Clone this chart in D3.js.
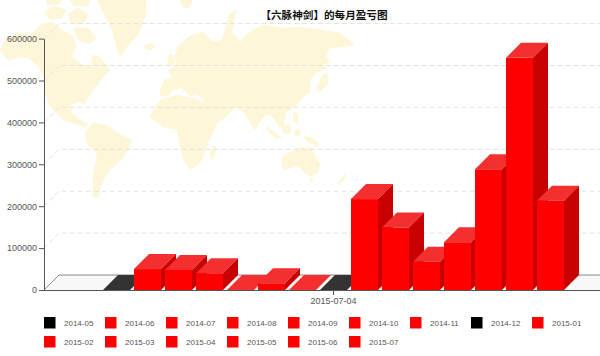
<!DOCTYPE html>
<html>
<head>
<meta charset="utf-8">
<script src="https://cdnjs.cloudflare.com/ajax/libs/d3/7.8.5/d3.min.js"></script>
<style>
  html, body { margin: 0; padding: 0; background: #fff; }
  svg { display: block; }
  text { font-family: "Liberation Sans", sans-serif; fill: #555; }
</style>
</head>
<body>
<div id="graphic"></div>
<script>
const titleText = "【六脉神剑】的每月盈亏图";
const months = ["2014-05", "2014-06", "2014-07", "2014-08", "2014-09", "2014-10", "2014-11", "2014-12",
                "2015-01", "2015-02", "2015-03", "2015-04", "2015-05", "2015-06", "2015-07"];
const profit = [0, 50000, 48000, 40000, 0, 16000, 0, 0,
                217000, 149000, 67500, 114000, 288000, 554000, 213000];
const yTicks = [0, 100000, 200000, 300000, 400000, 500000, 600000];
const xLabels = ["2015-07-04"];
const blackMonths = ["2014-05", "2014-12"];

const width = 600, height = 356, depth = 15;

var svg = d3.select("#graphic").append("svg")
        .attr("width", width)
        .attr("height", height);

svg.append("defs").append("filter")
    .attr("id", "soft")
    .append("feGaussianBlur")
    .attr("stdDeviation", 0.5);

// Background world map, traced by eye
const mapOutlines = [
  // north america
  "M0,50 L6,38 L18,33 L30,35 L42,24 L52,22 L62,30 L73,36 L76,46 L72,56 L80,64 L92,66 L92,55 L100,57 L110,70 L104,76 L98,84 L90,95 L84,104 L78,101 L70,106 L72,114 L80,120 L88,124 L85,127 L76,124 L64,120 L56,113 L49,104 L45,92 L44,78 L38,66 L29,58 L20,57 L8,60 Z",
  // arctic islands
  "M44,12 L54,6 L66,10 L62,18 L50,20 Z M68,14 L78,8 L88,14 L84,24 L72,24 Z M74,28 L88,28 L96,38 L90,44 L78,40 Z M46,0 L62,0 L58,5 L48,5 Z M70,0 L90,0 L88,6 L74,6 Z",
  // greenland, iceland, svalbard
  "M97,0 L146,0 L146,15 L138,35 L126,48 L120,56 L116,46 L112,30 L104,14 Z",
  "M144,46 L150,43 L155,46 L151,50 L146,49 Z",
  "M180,0 L193,0 L188,8 L183,7 Z",
  // south america
  "M85,133 L93,123 L107,125 L118,133 L132,140 L128,150 L123,158 L110,170 L102,182 L98,198 L93,197 L93,177 L97,153 L88,145 Z",
  // africa
  "M150,117 L160,100 L177,95 L193,98 L207,103 L212,115 L218,122 L208,143 L204,155 L200,163 L190,170 L184,160 L180,146 L177,130 L163,127 Z",
  "M213,146 L216,147 L214,158 L211,160 L210,153 Z",
  // eurasia
  "M160,90 L164,80 L172,78 L168,70 L178,66 L174,58 L178,46 L190,36 L203,32 L213,42 L222,40 L229,15 L236,10 L232,32 L240,42 L252,30 L263,25 L282,28 L300,27 L322,30 L340,33 L355,45 L340,47 L330,48 L326,56 L330,62 L322,66 L327,68 L316,73 L310,80 L310,92 L303,97 L296,106 L286,112 L284,124 L280,128 L274,118 L268,114 L262,118 L255,130 L250,122 L244,112 L236,108 L230,112 L222,120 L214,124 L208,110 L204,100 L196,94 L190,96 L182,88 L172,90 L168,96 L160,96 Z",
  // japan, britain, philippines
  "M322,76 L327,72 L328,84 L320,92 L316,90 Z",
  "M168,56 L172,54 L174,64 L168,66 Z",
  "M293,112 L298,114 L298,124 L294,122 Z",
  // indonesia, new guinea
  "M266,126 L272,130 L282,138 L276,138 L268,132 Z M282,126 L290,124 L291,133 L284,134 Z M294,132 L299,128 L300,135 L295,136 Z",
  "M303,137 L310,137 L318,142 L318,146 L310,143 Z",
  // australia, new zealand
  "M282,158 L288,153 L296,150 L300,147 L306,149 L310,146 L314,154 L320,164 L318,172 L312,176 L306,174 L298,166 L290,168 L284,170 L282,166 Z",
  "M309,178 L313,178 L312,182 Z",
  "M337,184 L342,178 L345,174 L346,177 L342,182 Z"
];

svg.append("g")
    .attr("filter", "url(#soft)")
    .selectAll("path")
    .data(mapOutlines)
    .enter().append("path")
    .attr("d", d => d)
    .attr("fill", "#fdf6d9")
    .attr("stroke", "#fdf6d9")
    .attr("stroke-width", 0.5)
    .attr("stroke-linejoin", "round");

// scales
var xscale = d3.scaleBand()
        .domain(months)
        .range([101, 566])
        .paddingInner(0.129)
        .paddingOuter(0.0645);

var yscale = d3.scaleLinear()
        .domain([0, 600000])
        .range([290, 38.6]);

const left = 44, right = 600;

// dashed wall grid
var grid = svg.append("g")
        .attr("fill", "none")
        .attr("stroke", "#e2e2e2")
        .attr("stroke-dasharray", "5,3");

grid.selectAll("path")
    .data(yTicks.filter(d => d > 0))
    .enter().append("path")
    .attr("d", d => "M" + left + "," + yscale(d) + " l" + depth + "," + (-depth) + " H" + right);

// floor
svg.append("path")
    .attr("d", "M" + left + "," + yscale(0) + " l" + depth + "," + (-depth) + " H" + right + " V" + yscale(0) + " Z")
    .attr("fill", "#f8f8f8")
    .attr("stroke", "none");

svg.append("path")
    .attr("d", "M" + left + "," + yscale(0) + " l" + depth + "," + (-depth) + " H" + right)
    .attr("fill", "none")
    .attr("stroke", "#888");

// 3d columns
var isBlack = m => blackMonths.includes(m);

var bars = svg.append("g").selectAll("g")
        .data(months.map((m, i) => ({month: m, value: profit[i]})))
        .enter().append("g");

// top
bars.append("path")
    .attr("d", d => {
        var x = xscale(d.month), y = yscale(d.value), w = xscale.bandwidth();
        return "M" + x + "," + y + " l" + depth + "," + (-depth) + " h" + w + " l" + (-depth) + "," + depth + " Z";
    })
    .attr("fill", d => isBlack(d.month) ? "#333" : "#f32f2f");

// side
bars.append("path")
    .attr("d", d => {
        var x = xscale(d.month) + xscale.bandwidth(), y = yscale(d.value);
        return "M" + x + "," + y + " l" + depth + "," + (-depth) + " V" + (yscale(0) - depth) + " L" + x + "," + yscale(0) + " Z";
    })
    .attr("fill", "#c80000");

// front
bars.append("rect")
    .attr("x", d => xscale(d.month))
    .attr("y", d => yscale(d.value))
    .attr("width", xscale.bandwidth())
    .attr("height", d => yscale(0) - yscale(d.value))
    .attr("fill", "#f00");

// axes
var y_axis = d3.axisLeft(yscale)
        .tickValues(yTicks)
        .tickFormat(d3.format("d"))
        .tickSize(5)
        .tickSizeOuter(0);

var gy = svg.append("g")
        .attr("transform", "translate(" + left + ",0)")
        .call(y_axis);

var xlabelScale = d3.scalePoint()
        .domain(xLabels)
        .range([66, 600])
        .padding(0.5);

var x_axis = d3.axisBottom(xlabelScale)
        .tickSize(5)
        .tickSizeOuter(0);

var gx = svg.append("g")
        .attr("transform", "translate(0," + yscale(0) + ")")
        .call(x_axis);

gx.select(".domain").attr("d", "M" + left + ",0.5 H" + right);

svg.selectAll(".domain, .tick line").attr("stroke", "#555");
svg.selectAll(".tick text")
    .attr("font-family", "Liberation Sans, sans-serif")
    .attr("font-size", 9)
    .style("fill", "#555");
gy.selectAll(".tick text").attr("x", -7);
gx.selectAll(".tick text").attr("y", 7.5);

// title
svg.append("text")
    .attr("x", 324)
    .attr("y", 19)
    .attr("text-anchor", "middle")
    .style("font-family", "'Noto Sans CJK SC'")
    .style("font-weight", "bold")
    .style("font-size", "10.6px")
    .style("fill", "#111")
    .text(titleText);

// legend
var perRow = 9;
var legend = svg.append("g").selectAll("g")
        .data(months)
        .enter().append("g")
        .attr("transform", (d, i) => "translate(" + (44 + (i % perRow) * 61) + "," + (317 + Math.floor(i / perRow) * 19) + ")");

legend.append("rect")
    .attr("width", 11.5)
    .attr("height", 11.5)
    .attr("fill", d => isBlack(d) ? "#000" : "#f00");

legend.append("text")
    .attr("x", 20)
    .attr("y", 9)
    .style("font-size", "8px")
    .text(d => d);
</script>
</body>
</html>
